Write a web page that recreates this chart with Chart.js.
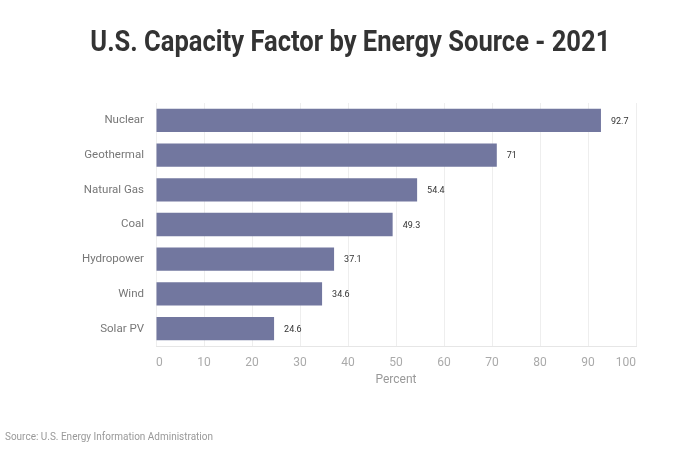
<!DOCTYPE html>
<html>
<head>
<meta charset="utf-8">
<script src="https://cdn.jsdelivr.net/npm/chart.js@4.4.1/dist/chart.umd.min.js"></script>
<style>
  html, body { margin: 0; padding: 0; background: #fff; }
  #wrap { position: relative; width: 680px; height: 450px; overflow: hidden; }
  #title { position: absolute; left: 10px; top: 23px; width: 680px; text-align: center; white-space: nowrap;
    font-family: Roboto, "Open Sans", sans-serif; font-weight: 700; font-size: 30px; color: #333; line-height: 36px; }
  #title span { display: inline-block; transform-origin: center center; }
  #source { position: absolute; left: 5px; top: 430px; font-family: Roboto, sans-serif; font-size: 11px; color: #999; white-space: nowrap; }
  #source span { display: inline-block; transform-origin: left center; }
  canvas { position: absolute; left: 0; top: 0; }
</style>
</head>
<body>
<div id="wrap">
  <canvas id="c" width="680" height="450"></canvas>
  <div id="title"><span id="tt">U.S. Capacity Factor by Energy Source - 2021</span></div>
  <div id="source"><span id="ss">Source: U.S. Energy Information Administration</span></div>
</div>
<script>
const categories = ["Nuclear", "Geothermal", "Natural Gas", "Coal", "Hydropower", "Wind", "Solar PV"];
const capacityFactor = [92.7, 71, 54.4, 49.3, 37.1, 34.6, 24.6];
const xTicks = [0, 10, 20, 30, 40, 50, 60, 70, 80, 90, 100];

// condense title/source to match reference widths
const tt = document.getElementById('tt');
tt.style.transform = 'scaleX(' + (520 / tt.getBoundingClientRect().width) + ')';
const ss = document.getElementById('ss');
ss.style.transform = 'scaleX(' + (208 / ss.getBoundingClientRect().width) + ')';

const valueLabels = {
  id: 'valueLabels',
  afterDatasetsDraw(chart) {
    const ctx = chart.ctx;
    const meta = chart.getDatasetMeta(0);
    ctx.save();
    ctx.font = '9px Roboto, sans-serif';
    ctx.fillStyle = '#333';
    ctx.textAlign = 'left';
    ctx.textBaseline = 'middle';
    meta.data.forEach((bar, i) => {
      ctx.fillText(String(capacityFactor[i]), bar.x + 10, bar.y + 1);
    });
    ctx.restore();
  }
};

new Chart(document.getElementById('c'), {
  type: 'bar',
  data: {
    labels: categories,
    datasets: [{
      data: capacityFactor,
      backgroundColor: '#72779f',
      borderWidth: 0,
      barPercentage: 0.67,
      categoryPercentage: 1.0
    }]
  },
  options: {
    indexAxis: 'y',
    responsive: false,
    animation: false,
    devicePixelRatio: 1,
    layout: { padding: { top: 103, right: 44, bottom: 59, left: 0 } },
    plugins: { legend: { display: false }, tooltip: { enabled: false }, title: { display: false } },
    scales: {
      x: {
        min: 0, max: 100,
        afterFit(s) { s.height = 45; },
        afterBuildTicks(s) { s.ticks = xTicks.map(v => ({ value: v })); },
        grid: { color: '#eeeeee', drawTicks: false, lineWidth: 1 },
        border: { display: true, color: '#e6e6e6' },
        ticks: { padding: 10, align: 'inner', color: '#aaaaaa', font: { family: 'Roboto', size: 12 } },
        title: { display: true, text: 'Percent', color: '#999999', font: { family: 'Roboto', size: 12 }, padding: { top: 2, bottom: 4 } }
      },
      y: {
        afterFit(s) { s.width = 156; },
        grid: { display: false, drawTicks: false },
        border: { display: false },
        ticks: { padding: 12, color: '#777777', font: { family: 'Roboto', size: 11.5 } }
      }
    }
  },
  plugins: [valueLabels]
});
</script>
</body>
</html>
